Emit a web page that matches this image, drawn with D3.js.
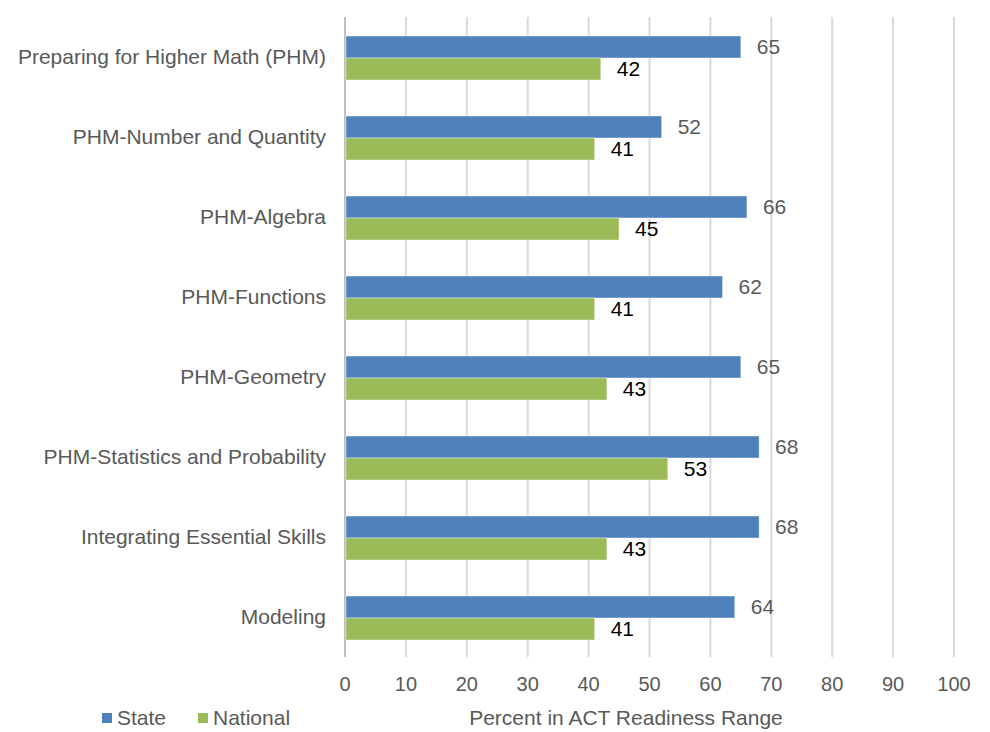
<!DOCTYPE html>
<html><head><meta charset="utf-8">
<script src="https://cdn.jsdelivr.net/npm/d3@7"></script>
<style>body{margin:0;background:#fff}svg{display:block}text{font-family:"Liberation Sans",Arial,sans-serif}</style>
</head><body><svg id="c" width="990" height="732"></svg>
<script>
const categories = ["Preparing for Higher Math (PHM)","PHM-Number and Quantity","PHM-Algebra","PHM-Functions","PHM-Geometry","PHM-Statistics and Probability","Integrating Essential Skills","Modeling"];
const stateValues = [65,52,66,62,65,68,68,64];
const nationalValues = [42,41,45,41,43,53,43,41];
const xTicks = [0,10,20,30,40,50,60,70,80,90,100];
const seriesNames = ["State","National"];
const colors = ["#4F81BD","#9BBB59"];

(function(){
const svg = d3.select("#c");
const pLeft = 345, pRight = 954, pTop = 17, pBottom = 657;
const x = d3.scaleLinear().domain([0,100]).range([pLeft,pRight]);
const y = d3.scaleBand().domain(categories).range([pTop,pBottom]);
const inner = d3.scaleBand().domain(seriesNames).range([19,63]);

svg.append("g").selectAll("line").data(xTicks.slice(1)).join("line")
  .attr("x1",d=>x(d)).attr("x2",d=>x(d)).attr("y1",pTop).attr("y2",pBottom)
  .attr("stroke","#d9d9d9").attr("stroke-width",2);
svg.append("line").attr("x1",x(0)).attr("x2",x(0)).attr("y1",pTop).attr("y2",pBottom)
  .attr("stroke","#bfbfbf").attr("stroke-width",2);

const data = categories.map((c,i)=>({c, vals:[stateValues[i], nationalValues[i]]}));
const g = svg.append("g").selectAll("g").data(data).join("g")
  .attr("transform",d=>`translate(0,${y(d.c)})`);
g.selectAll("rect").data(d=>d.vals.map((v,j)=>({v,s:seriesNames[j],j}))).join("rect")
  .attr("x",x(0)+1).attr("y",d=>inner(d.s)).attr("height",inner.bandwidth())
  .attr("width",d=>x(d.v)-x(0)-1).attr("fill",d=>colors[d.j])
  .attr("stroke","#fff").attr("stroke-opacity",0.5).attr("stroke-width",0.8);
g.selectAll("text.v").data(d=>d.vals.map((v,j)=>({v,s:seriesNames[j],j}))).join("text")
  .attr("class","v")
  .attr("x",d=>x(d.v)+16).attr("y",d=>inner(d.s)+inner.bandwidth()/2)
  .attr("dy","0.35em").attr("font-size",21)
  .attr("fill",d=>d.j===0?"#595959":"#000").text(d=>d.v);

svg.append("g").selectAll("text").data(categories).join("text")
  .attr("x",326).attr("y",d=>y(d)+y.bandwidth()/2).attr("dy","0.35em")
  .attr("text-anchor","end").attr("font-size",21).attr("fill","#595959").text(d=>d);

svg.append("g").selectAll("text").data(xTicks).join("text")
  .attr("x",d=>x(d)).attr("y",684).attr("dy","0.35em").attr("text-anchor","middle")
  .attr("font-size",20).attr("fill","#595959").text(d=>d);

svg.append("text").attr("x",626).attr("y",718).attr("dy","0.35em").attr("text-anchor","middle")
  .attr("font-size",21).attr("fill","#595959").text("Percent in ACT Readiness Range");

const leg = svg.append("g").selectAll("g").data(seriesNames).join("g")
  .attr("transform",(d,i)=>`translate(${[102,198][i]},713)`);
leg.append("rect").attr("width",10).attr("height",10).attr("fill",(d,i)=>colors[i]);
leg.append("text").attr("x",15).attr("y",5).attr("dy","0.35em").attr("font-size",21)
  .attr("fill","#595959").text(d=>d);
})();
</script></body></html>
